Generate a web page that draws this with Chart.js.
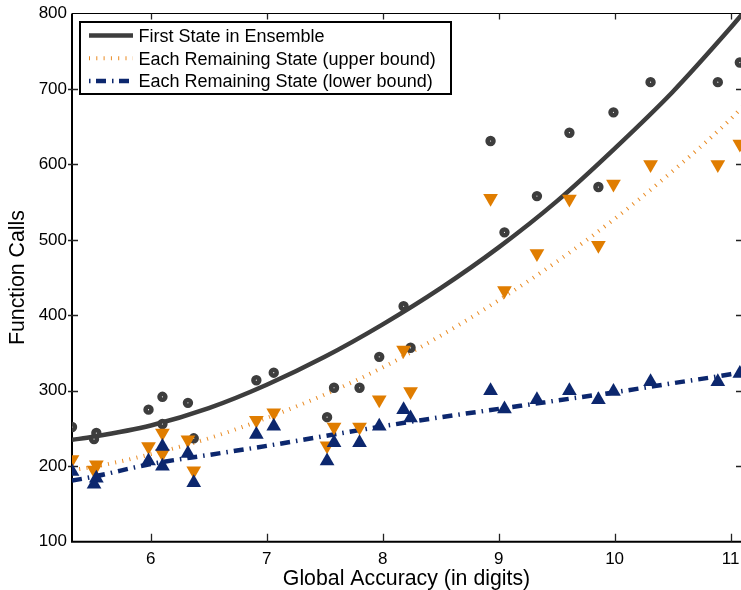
<!DOCTYPE html>
<html lang="en">
<head>
  <meta charset="UTF-8" />
  <title>Function Calls vs Global Accuracy</title>
  <script src="https://cdn.jsdelivr.net/npm/chart.js"></script>
  <style>
    html, body { margin: 0; padding: 0; background: #fff; }
    #wrap { width: 741px; height: 590px; position: relative; }
  </style>
</head>
<body>
  <div id="wrap"><canvas id="chart"></canvas></div>

  <script>
    // one entry per run: accuracy reached and function calls spent
    const accuracy = [5.32, 5.51, 5.53, 5.98, 6.10, 6.10, 6.32, 6.37, 6.91, 7.06, 7.52, 7.58, 7.80,
      7.97, 8.18, 8.24, 8.93, 9.05, 9.33, 9.61, 9.86, 9.99, 10.31, 10.89, 11.08];
    const firstState = [252, 236, 244, 275, 292, 256, 284, 237, 314, 324, 265, 304, 304,
      345, 412, 357, 631, 510, 558, 642, 570, 669, 709, 709, 735];
    const upperBound = [209, 195, 202, 226, 244, 217, 235, 194, 261, 271, 227, 252, 252,
      288, 354, 299, 555, 433, 482, 554, 493, 574, 600, 600, 627];
    const lowerBound = [193, 176, 184, 207, 226, 200, 217, 178, 242, 253, 207, 231, 231,
      253, 275, 264, 300, 276, 288, 300, 288, 299, 312, 312, 323];

    // fitted trend curves
    const fitAccuracy = [5.32, 5.5, 6, 6.5, 7, 7.5, 8, 8.5, 9, 9.5, 10, 10.5, 11, 11.1];
    const fitFirst = [235, 239, 254, 277, 308, 345, 388, 436, 490, 551, 621, 696, 781, 799];
    const fitUpper = [195, 199, 216, 237, 264, 295, 331, 373, 420, 471, 528, 591, 660, 676];
    const fitLower = [181, 186, 203, 215, 227, 240, 253, 265, 276, 287, 298, 310, 322, 325];

    const xTicks = [6, 7, 8, 9, 10, 11];

    const pairs = (xs, ys) => xs.map((x, i) => ({ x: x, y: ys[i] }));

    const GRAY = '#3d3d3d';
    const ORANGE = '#e07d00';
    const ORANGE_LINE = '#e98b24';
    const NAVY = '#0c276e';
    const FONT = "'Liberation Sans', Arial, Helvetica, sans-serif";

    const legendItems = [
      { text: 'First State in Ensemble', color: GRAY, width: 4.5, dash: [] },
      { text: 'Each Remaining State (upper bound)', color: ORANGE_LINE, width: 4, dash: [1, 6.3] },
      { text: 'Each Remaining State (lower bound)', color: NAVY, width: 4.5, dash: [1.5, 5.5, 10, 6] }
    ];

    // box with inward tick marks, drawn under the data
    const frame = {
      id: 'frame',
      beforeDatasetsDraw(chart) {
        const { ctx, chartArea: a, scales: { x, y } } = chart;
        ctx.save();
        ctx.strokeStyle = '#000';

        ctx.lineWidth = 1;
        ctx.beginPath();
        ctx.moveTo(a.left, a.top);
        ctx.lineTo(a.right + 1, a.top);
        ctx.stroke();

        ctx.lineWidth = 2;
        ctx.beginPath();
        ctx.moveTo(a.left, a.top);
        ctx.lineTo(a.left, a.bottom);
        ctx.lineTo(a.right + 1, a.bottom);
        ctx.stroke();

        ctx.lineWidth = 1.3;
        ctx.strokeStyle = '#222';
        ctx.beginPath();
        xTicks.forEach(v => {
          const px = Math.round(x.getPixelForValue(v)) + 0.5;
          ctx.moveTo(px, a.bottom);
          ctx.lineTo(px, a.bottom - 8);
          ctx.moveTo(px, a.top);
          ctx.lineTo(px, a.top + 6);
        });
        y.ticks.forEach(t => {
          if (t.value === 100 || t.value === 800) return;
          const py = Math.round(y.getPixelForValue(t.value)) + 0.5;
          ctx.moveTo(a.left - 4, py);
          ctx.lineTo(a.left + 6, py);
          ctx.moveTo(a.right, py);
          ctx.lineTo(a.right - 5, py);
        });
        ctx.stroke();
        ctx.restore();
      }
    };

    const legendBox = {
      id: 'legendBox',
      afterDatasetsDraw(chart) {
        const { ctx } = chart;
        ctx.save();
        ctx.fillStyle = '#fff';
        ctx.fillRect(80, 22, 371, 72);
        ctx.strokeStyle = '#000';
        ctx.lineWidth = 2;
        ctx.strokeRect(80, 22, 371, 72);

        ctx.font = '18px ' + FONT;
        ctx.textBaseline = 'alphabetic';
        ctx.textAlign = 'left';
        legendItems.forEach((item, i) => {
          const cy = 35.5 + i * 22.7;
          ctx.strokeStyle = item.color;
          ctx.lineWidth = item.width;
          ctx.lineCap = 'butt';
          ctx.setLineDash(item.dash);
          ctx.beginPath();
          ctx.moveTo(89, cy);
          ctx.lineTo(133, cy);
          ctx.stroke();
          ctx.setLineDash([]);
          ctx.fillStyle = '#000';
          ctx.fillText(item.text, 138.5, cy + 6.3);
        });
        ctx.restore();
      }
    };

    new Chart(document.getElementById('chart'), {
      type: 'scatter',
      data: {
        datasets: [
          {
            label: 'Each Remaining State (lower bound) runs',
            data: pairs(accuracy, lowerBound),
            pointStyle: 'triangle',
            pointRadius: 8.5,
            pointBackgroundColor: NAVY,
            pointBorderWidth: 0,
            order: 1
          },
          {
            label: 'Each Remaining State (upper bound) runs',
            data: pairs(accuracy, upperBound),
            pointStyle: 'triangle',
            pointRotation: 180,
            pointRadius: 8.5,
            pointBackgroundColor: ORANGE,
            pointBorderWidth: 0,
            order: 2
          },
          {
            label: 'First State in Ensemble runs',
            data: pairs(accuracy, firstState),
            pointStyle: 'circle',
            pointRadius: 2.9,
            pointBackgroundColor: '#fff',
            pointBorderColor: GRAY,
            pointBorderWidth: 4.6,
            order: 3
          },
          {
            type: 'line',
            label: 'First State in Ensemble',
            data: pairs(fitAccuracy, fitFirst),
            borderColor: GRAY,
            borderWidth: 4.5,
            pointRadius: 0,
            cubicInterpolationMode: 'monotone',
            order: 6
          },
          {
            type: 'line',
            label: 'Each Remaining State (upper bound)',
            data: pairs(fitAccuracy, fitUpper),
            borderColor: ORANGE_LINE,
            borderWidth: 4,
            borderDash: [1, 6.3],
            borderCapStyle: 'butt',
            pointRadius: 0,
            cubicInterpolationMode: 'monotone',
            order: 5
          },
          {
            type: 'line',
            label: 'Each Remaining State (lower bound)',
            data: pairs(fitAccuracy, fitLower),
            borderColor: NAVY,
            borderWidth: 4.5,
            borderDash: [10, 6, 1.5, 6],
            borderCapStyle: 'butt',
            pointRadius: 0,
            cubicInterpolationMode: 'monotone',
            order: 4
          }
        ]
      },
      options: {
        responsive: true,
        maintainAspectRatio: false,
        animation: false,
        devicePixelRatio: 1,
        layout: { autoPadding: false, padding: { top: 13.5, right: 0, left: 0, bottom: 0 } },
        plugins: {
          legend: { display: false },
          tooltip: { enabled: false }
        },
        scales: {
          x: {
            type: 'linear',
            min: 5.32,
            max: 11.09,
            afterBuildTicks: s => { s.ticks = xTicks.map(v => ({ value: v })); },
            afterFit: s => { s.height = 48.3; },
            grid: { display: false, drawTicks: true, tickLength: 7.6 },
            border: { display: false },
            ticks: {
              padding: 0,
              color: '#000',
              font: { family: FONT, size: 17 }
            },
            title: {
              display: true,
              text: 'Global Accuracy (in digits)',
              color: '#000',
              font: { family: FONT, size: 21.3, lineHeight: 1 },
              padding: { top: 0, bottom: 0 }
            }
          },
          y: {
            type: 'linear',
            min: 100,
            max: 800,
            afterFit: s => { s.width = 72; },
            grid: { display: false, drawTicks: true, tickLength: 5 },
            border: { display: false },
            ticks: {
              stepSize: 100,
              padding: 0,
              color: '#000',
              font: { family: FONT, size: 17 }
            },
            title: {
              display: true,
              text: 'Function Calls',
              color: '#000',
              font: { family: FONT, size: 21.3, lineHeight: 1 },
              padding: { top: 7.5, bottom: 0 }
            }
          }
        }
      },
      plugins: [frame, legendBox]
    });
  </script>
</body>
</html>
